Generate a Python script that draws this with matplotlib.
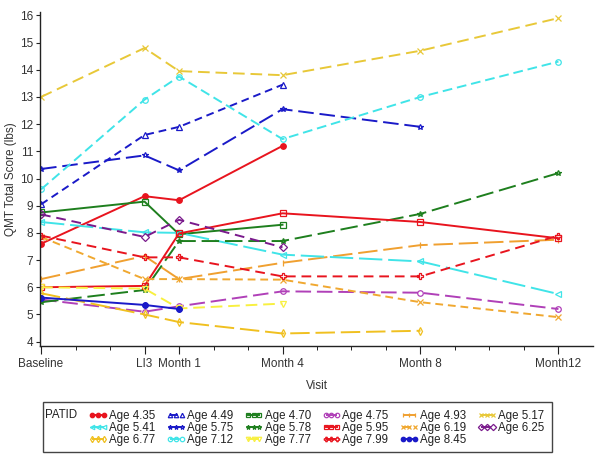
import numpy as np
import matplotlib
matplotlib.use("Agg")
import matplotlib.pyplot as plt
from matplotlib.patches import Rectangle

plt.rcParams['font.family'] = ['Liberation Sans', 'DejaVu Sans']

# visit positions (months, baseline 3 months before LI3)
visit_x = [-3, 0, 1, 4, 8, 12]
visit_labels = ["Baseline", "LI3", "Month 1", "Month 4", "Month 8", "Month12"]

nan = np.nan
# QMT total score per patient
age_435 = [7.6, 9.35, 9.2, 11.2, nan, nan]
age_449 = [9.05, 11.6, 11.9, 13.45, nan, nan]
age_470 = [8.75, 9.15, 7.95, 8.3, nan, nan]
age_475 = [5.55, 5.1, 5.3, 5.85, 5.8, 5.2]
age_493 = [6.3, 7.15, 6.3, 6.9, 7.55, 7.75]
age_517 = [13.0, 14.8, 13.95, 13.8, 14.7, 15.9]
age_541 = [8.4, 8.02, 8.0, 7.2, 6.95, 5.75]
age_575 = [10.35, 10.85, 10.3, 12.55, 11.9, nan]
age_578 = [5.45, 5.9, 7.7, 7.7, 8.7, 10.2]
age_595 = [6.0, 6.05, 7.98, 8.72, 8.4, 7.8]
age_619 = [7.85, 6.3, 6.3, 6.28, 5.45, 4.9]
age_625 = [8.68, 7.85, 8.48, 7.47, nan, nan]
age_677 = [5.78, 5.0, 4.72, 4.3, 4.4, nan]
age_712 = [9.6, 12.9, 13.75, 11.45, 13.0, 14.3]
age_777 = [6.0, 5.95, 5.22, 5.4, nan, nan]
age_799 = [7.9, 7.1, 7.1, 6.4, 6.4, 7.9]
age_845 = [5.62, 5.35, 5.2, nan, nan, nan]

labels = ["Age 4.35", "Age 4.49", "Age 4.70", "Age 4.75", "Age 4.93", "Age 5.17",
          "Age 5.41", "Age 5.75", "Age 5.78", "Age 5.95", "Age 6.19", "Age 6.25",
          "Age 6.77", "Age 7.12", "Age 7.77", "Age 7.99", "Age 8.45"]
series = [age_435, age_449, age_470, age_475, age_493, age_517,
          age_541, age_575, age_578, age_595, age_619, age_625,
          age_677, age_712, age_777, age_799, age_845]

red = "#e8141e"
blue = "#1a1ac8"
green = "#1e7f1e"
styles = [
    (red, "-", "o", True),
    (blue, (0, (4, 2.5)), "^", False),
    (green, "-", "s", False),
    ("#b040b8", (0, (8, 3)), "o", False),
    ("#f0a030", (0, (10, 3)), "|", False),
    ("#e8c838", (0, (6, 3)), "x", False),
    ("#40e4e8", (0, (12, 3)), "<", False),
    (blue, (0, (8, 3)), "*", False),
    (green, (0, (9, 3)), "*", False),
    (red, "-", "s", False),
    ("#f0a830", (0, (4, 2.5)), "x", False),
    ("#7a1a8c", (0, (5, 3)), "D", False),
    ("#f0c020", (0, (10, 3)), "d", False),
    ("#40e4e8", (0, (5, 2.5)), "o", False),
    ("#f8f040", (0, (6, 3)), "v", False),
    (red, (0, (5, 3)), "P", False),
    (blue, "-", "$\\oplus$", False),
]

fig = plt.figure(figsize=(6.01, 4.57), dpi=100)
ax = fig.add_axes([0.0666, 0.2435, 0.92, 0.730])

handles = []
for vals, lab, (col, ls, mk, filled) in zip(series, labels, styles):
    y = np.array(vals, dtype=float)
    ok = ~np.isnan(y)
    h, = ax.plot(np.array(visit_x)[ok], y[ok], color=col, linestyle=ls, lw=1.4,
                 marker=mk, markersize=4, markeredgewidth=0.9,
                 markerfacecolor=col if filled else "none", markeredgecolor=col,
                 label=lab)
    handles.append(h)

ax.set_xlim(-3.03, 13.0)
ax.set_ylim(3.85, 16.12)
ax.set_xticks(visit_x)
ax.set_xticklabels(visit_labels)
ax.set_xticks(np.arange(-3, 13), minor=True)
ax.set_yticks(np.arange(4, 17))
for s in ["top", "right"]:
    ax.spines[s].set_visible(False)
for s in ["left", "bottom"]:
    ax.spines[s].set_color("#222222")
    ax.spines[s].set_linewidth(1.0)
ax.tick_params(axis="both", labelsize=8.5, colors="#222222", labelcolor="#333333")
ax.tick_params(axis="x", which="major", length=6, pad=3)
ax.tick_params(axis="x", which="minor", length=3)
ax.tick_params(axis="y", length=3, pad=2)
ax.set_xlabel("Visit", fontsize=8.5, color="#333333", labelpad=7)
ax.set_ylabel("QMT Total Score (lbs)", fontsize=8.5, color="#333333", labelpad=2)

# legend: row-major order like the original, matplotlib fills by column
order = []
for c in range(6):
    for r in range(3):
        i = r * 6 + c
        if i < len(handles):
            order.append(i)
leg = fig.legend([handles[i] for i in order], [labels[i] for i in order],
                 ncol=6, loc="upper left", bbox_to_anchor=(89 / 601, 1 - 410 / 457),
                 frameon=False, fontsize=8.3, handlelength=1.6, handletextpad=0.15,
                 columnspacing=0.98, labelspacing=0.02, borderpad=0, borderaxespad=0,
                 numpoints=3, markerscale=0.8)
for t in leg.get_texts():
    t.set_color("#222222")
fig.patches.append(Rectangle((43.3 / 601, 1 - 452.3 / 457), 508.4 / 601, 50 / 457,
                             transform=fig.transFigure, fill=False,
                             edgecolor="#444444", lw=1.0))
fig.text(45 / 601, 1 - 415 / 457, "PATID", fontsize=8.3, color="#222222",
         va="center", ha="left")

fig.savefig("out.png", dpi=100)
